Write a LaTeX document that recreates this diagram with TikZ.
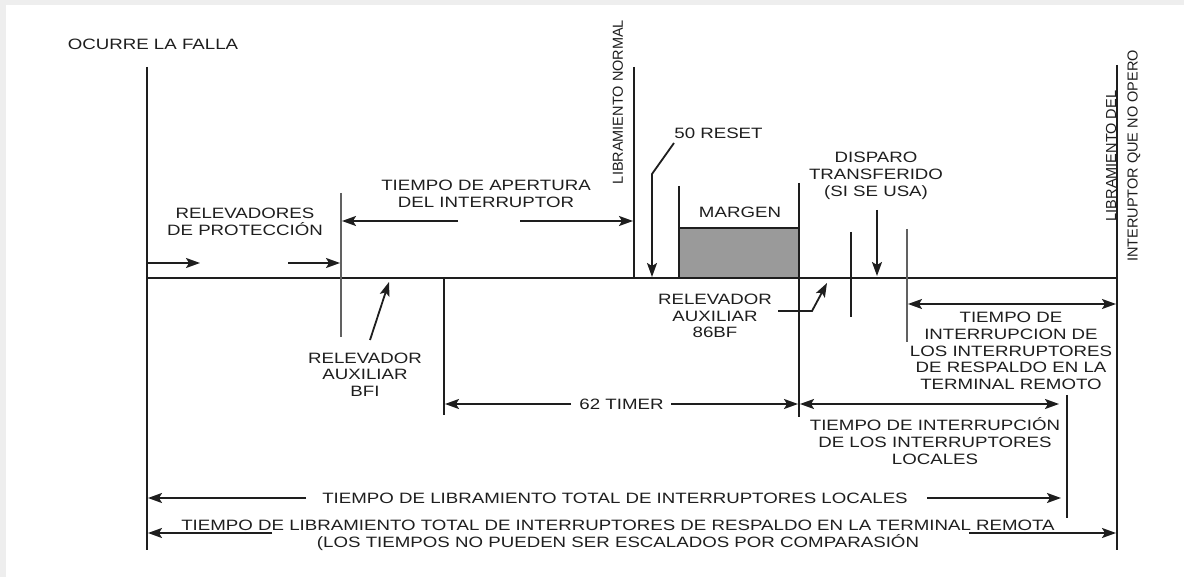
\documentclass[tikz,border=0pt]{standalone}
\usepackage{fontspec}
\setmainfont{Liberation Sans}[FakeStretch=1.246]
\newfontfamily\vertfont{Liberation Sans}
\usetikzlibrary{arrows.meta}

\definecolor{ink}{HTML}{1E1E1E}
\definecolor{margengray}{HTML}{9A9A9A}
\definecolor{framegray}{HTML}{EEEEEE}

\tikzset{
  lbl/.style={inner sep=0pt, align=center, text=ink, font=\fontsize{15}{16.7}\selectfont},
  vlbl/.style={inner sep=0pt, rotate=90, text=ink, font=\vertfont\fontsize{14.5}{16}\selectfont},
  tline/.style={line width=2pt, draw=ink},
  heavy/.style={line width=2.8pt, draw=ink},
  grayline/.style={line width=1.6pt, draw=ink!70},
  arr/.style={line width=1.8pt, draw=ink, -{Stealth[length=14pt,width=10pt,inset=3pt]}},
  darr/.style={arr, {Stealth[length=14pt,width=10pt,inset=3pt]}-{Stealth[length=14pt,width=10pt,inset=3pt]}},
}

\begin{document}
\begin{tikzpicture}[x=1pt, y=-1pt]
    % Frame of the screenshot
    \fill[framegray] (0,0) rectangle (1184,577);
    \fill[white] (6,5) rectangle (1184,577);
    \useasboundingbox (0,0) rectangle (1184,577);

    % Time axis and margin box
    \draw[tline] (147,278) -- (1117,278);
    \filldraw[fill=margengray, draw=ink, line width=1.6pt] (679,228) rectangle (799,278);

    % Event markers
    \draw[heavy] (147,67) -- (147,550);
    \draw[heavy] (1117,65) -- (1117,550);
    \draw[grayline] (341,193) -- (341,337);
    \draw[heavy] (444,278) -- (444,415);
    \draw[tline] (634,67) -- (634,278);
    \draw[tline] (679,186) -- (679,278);
    \draw[heavy] (799,183) -- (799,417);
    \draw[tline] (851,232) -- (851,317);
    \draw[grayline] (907,229) -- (907,342);
    \draw[tline] (1067,395) -- (1067,518);

    % Labels
    \node[lbl] (falla) at (153,44) {OCURRE LA FALLA};
    \node[lbl] (relprot) at (245,221.5) {RELEVADORES\\DE PROTECCIÓN};
    \node[lbl] (apertura) at (486,193.5) {TIEMPO DE APERTURA\\DEL INTERRUPTOR};
    \node[lbl] (reset) at (718.5,133) {50 RESET};
    \node[lbl] (margen) at (740,212) {MARGEN};
    \node[lbl] (disparo) at (876,176) {DISPARO\\TRANSFERIDO\\(SI SE USA)};
    \node[lbl] (bfi) at (365,374.5) {RELEVADOR\\AUXILIAR\\BFI};
    \node[lbl] (aux86) at (715,316) {RELEVADOR\\AUXILIAR\\86BF};
    \node[lbl] (timer) at (621.5,404) {62 TIMER};
    \node[lbl] (respaldo) at (1011,351) {TIEMPO DE\\INTERRUPCION DE\\LOS INTERRUPTORES\\DE RESPALDO EN LA\\TERMINAL REMOTO};
    \node[lbl] (locales) at (935,441) {TIEMPO DE INTERRUPCIÓN\\DE LOS INTERRUPTORES\\LOCALES};
    \node[lbl] (totloc) at (615,498) {TIEMPO DE LIBRAMIENTO TOTAL DE INTERRUPTORES LOCALES};
    \node[lbl] (totrem) at (618,535) {TIEMPO DE LIBRAMIENTO TOTAL DE INTERRUPTORES DE RESPALDO EN LA TERMINAL REMOTA\\(LOS TIEMPOS NO PUEDEN SER ESCALADOS POR COMPARASIÓN};
    \node[vlbl] (libnorm) at (618,102) {LIBRAMIENTO NORMAL};
    \node[vlbl] (libdel) at (1111,156) {LIBRAMIENTO DEL};
    \node[vlbl] (noopero) at (1134,156) {INTERUPTOR QUE NO OPERO};

    % Single arrows
    \foreach \a/\b in {147/200, 288/340}
        \draw[arr] (\a,263) -- (\b,263);
    \draw[arr] (458,221) -- (342,221);
    \draw[arr] (520,221) -- (633,221);
    \draw[arr] (571,404) -- (445,404);
    \draw[arr] (671,404) -- (798,404);
    \draw[arr] (306,498) -- (148,498);
    \draw[arr] (927,498) -- (1061,498);
    \draw[arr] (272,533) -- (148,533);
    \draw[arr] (969,533) -- (1116,533);

    % Pointers to the axis
    \draw[arr] (370,340) -- (389,282);
    \draw[arr] (674,143) -- (652,174) -- (652,277);
    \draw[arr] (778,311) -- (812,311) -- (827,283);
    \draw[arr] (877,210) -- (877,276);

    % Interval arrows
    \draw[darr] (908,304) -- (1116,304);
    \draw[darr] (800,404) -- (1059,404);
\end{tikzpicture}
\end{document}
